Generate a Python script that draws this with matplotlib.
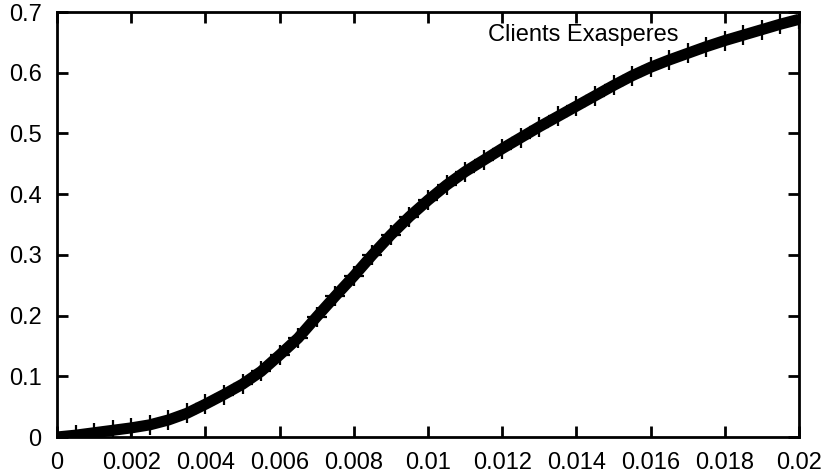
import numpy as np
import matplotlib
matplotlib.use('Agg')
import matplotlib.pyplot as plt
from matplotlib.ticker import FormatStrFormatter

# Data (approximate band centre)
rate = [0.0, 0.0005, 0.001, 0.0015, 0.002, 0.0025, 0.003, 0.0035, 0.004, 0.0045,
        0.005, 0.0055, 0.006, 0.0065, 0.007, 0.0075, 0.008, 0.0085, 0.009, 0.0095,
        0.01, 0.0105, 0.011, 0.0115, 0.012, 0.0125, 0.013, 0.0135, 0.014, 0.0145,
        0.015, 0.0155, 0.016, 0.0165, 0.017, 0.0175, 0.018, 0.0185, 0.019, 0.0195, 0.02]
exasperes = [0.0, 0.003, 0.007, 0.011, 0.015, 0.020, 0.028, 0.039, 0.054, 0.070,
             0.087, 0.108, 0.135, 0.163, 0.198, 0.232, 0.265, 0.300, 0.333, 0.363,
             0.390, 0.415, 0.437, 0.456, 0.475, 0.493, 0.511, 0.528, 0.545, 0.562,
             0.579, 0.595, 0.609, 0.621, 0.632, 0.643, 0.653, 0.662, 0.671, 0.680, 0.688]
label = 'Clients Exasperes'

xticks = np.arange(0, 0.0201, 0.002)
yticks = np.arange(0, 0.71, 0.1)

plt.rcParams['font.family'] = ['Liberation Sans', 'DejaVu Sans']

fig = plt.figure(figsize=(8.25, 4.75), dpi=100)
ax = fig.add_axes([0.0691, 0.08, 0.8994, 0.8947])

# thick band + cross markers, gnuplot "points" look
ax.plot(rate, exasperes, color='black', lw=8, solid_capstyle='butt', zorder=2)
ax.plot(rate, exasperes, ls='none', marker='+', ms=15, mew=1.6, color='black', zorder=3)

ax.set_xlim(0, 0.02)
ax.set_ylim(0, 0.7)
ax.set_xticks(xticks)
ax.set_yticks(yticks)
ax.xaxis.set_major_formatter(FormatStrFormatter('%g'))
ax.yaxis.set_major_formatter(FormatStrFormatter('%g'))
ax.tick_params(direction='in', length=8, width=2, top=True, right=True,
               labelsize=17, pad=11)
for s in ax.spines.values():
    s.set_linewidth(2)

ax.text(0.01162, 0.662, label, fontsize=17, ha='left', va='center')

fig.savefig('out.png', dpi=100)
